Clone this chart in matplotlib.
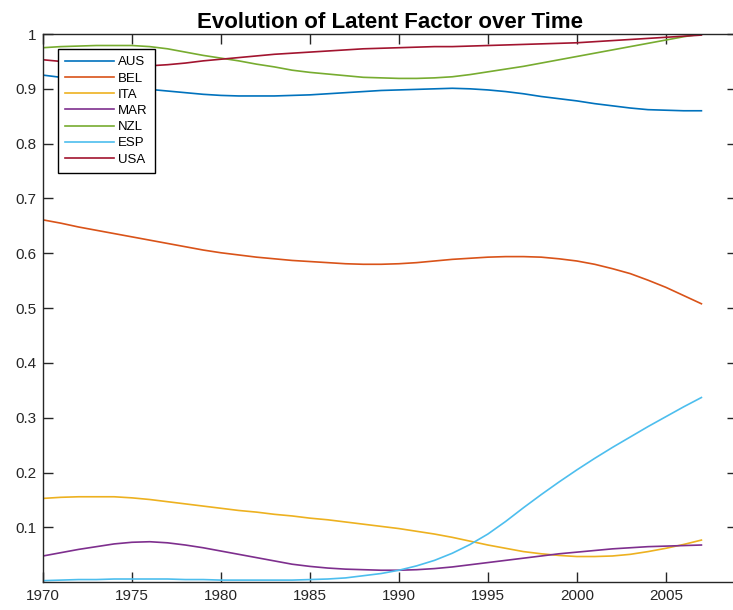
import numpy as np
import matplotlib.pyplot as plt

plt.rcParams['font.family'] = ['Liberation Sans', 'DejaVu Sans']

#### Data ####
years = np.arange(1970, 2008)

aus = [0.925, 0.921, 0.916, 0.911, 0.906, 0.902, 0.899, 0.896, 0.893, 0.890,
       0.888, 0.887, 0.887, 0.887, 0.888, 0.889, 0.891, 0.893, 0.895, 0.897,
       0.898, 0.899, 0.900, 0.901, 0.900, 0.898, 0.895, 0.891, 0.886, 0.882,
       0.878, 0.873, 0.869, 0.865, 0.862, 0.861, 0.860, 0.860]
bel = [0.661, 0.655, 0.648, 0.642, 0.636, 0.630, 0.624, 0.618, 0.612, 0.606,
       0.601, 0.597, 0.593, 0.590, 0.587, 0.585, 0.583, 0.581, 0.580, 0.580,
       0.581, 0.583, 0.586, 0.589, 0.591, 0.593, 0.594, 0.594, 0.593, 0.590,
       0.586, 0.580, 0.572, 0.563, 0.551, 0.538, 0.523, 0.508]
ita = [0.153, 0.155, 0.156, 0.156, 0.156, 0.154, 0.151, 0.147, 0.143, 0.139,
       0.135, 0.131, 0.128, 0.124, 0.121, 0.117, 0.114, 0.110, 0.106, 0.102,
       0.098, 0.093, 0.088, 0.082, 0.075, 0.068, 0.062, 0.056, 0.052, 0.049,
       0.047, 0.047, 0.048, 0.051, 0.056, 0.062, 0.069, 0.077]
mar = [0.048, 0.054, 0.060, 0.065, 0.070, 0.073, 0.074, 0.072, 0.068, 0.063,
       0.057, 0.051, 0.045, 0.039, 0.033, 0.029, 0.026, 0.024, 0.023, 0.022,
       0.022, 0.023, 0.025, 0.028, 0.032, 0.036, 0.040, 0.044, 0.048, 0.052,
       0.055, 0.058, 0.061, 0.063, 0.065, 0.066, 0.067, 0.068]
nzl = [0.975, 0.977, 0.978, 0.979, 0.979, 0.979, 0.977, 0.973, 0.967, 0.961,
       0.956, 0.951, 0.945, 0.940, 0.934, 0.930, 0.927, 0.924, 0.921, 0.920,
       0.919, 0.919, 0.920, 0.922, 0.926, 0.931, 0.936, 0.941, 0.947, 0.953,
       0.959, 0.965, 0.971, 0.977, 0.983, 0.989, 0.995, 1.000]
esp = [0.003, 0.004, 0.005, 0.005, 0.006, 0.006, 0.006, 0.006, 0.005, 0.005,
       0.004, 0.004, 0.004, 0.004, 0.004, 0.005, 0.006, 0.008, 0.012, 0.016,
       0.022, 0.030, 0.040, 0.053, 0.069, 0.088, 0.111, 0.136, 0.160, 0.183,
       0.205, 0.226, 0.246, 0.265, 0.284, 0.302, 0.320, 0.337]
usa = [0.953, 0.950, 0.947, 0.944, 0.942, 0.941, 0.942, 0.944, 0.947, 0.951,
       0.954, 0.957, 0.960, 0.963, 0.965, 0.967, 0.969, 0.971, 0.973, 0.974,
       0.975, 0.976, 0.977, 0.977, 0.978, 0.979, 0.980, 0.981, 0.982, 0.983,
       0.984, 0.986, 0.988, 0.990, 0.992, 0.994, 0.996, 0.998]

names = ['AUS', 'BEL', 'ITA', 'MAR', 'NZL', 'ESP', 'USA']
series = [aus, bel, ita, mar, nzl, esp, usa]
colors = ['#0072BD', '#D95319', '#EDB120', '#7E2F8E', '#77AC30', '#4DBEEE', '#A2142F']

xticks = [1970, 1975, 1980, 1985, 1990, 1995, 2000, 2005]
yticks = [0.1, 0.2, 0.3, 0.4, 0.5, 0.6, 0.7, 0.8, 0.9, 1]
yticklabels = ['0.1', '0.2', '0.3', '0.4', '0.5', '0.6', '0.7', '0.8', '0.9', '1']

#### Figure ####
W, H = 733, 610
fig = plt.figure(figsize=(W / 100, H / 100), dpi=100)
ax = fig.add_axes([43 / W, (H - 582.3) / H, 694 / W, 548.3 / H])

for name, vals, c in zip(names, series, colors):
    ax.plot(years, vals, color=c, lw=1.2, label=name)

ax.set_xlim(1970, 2009)
ax.set_ylim(0, 1)
ax.set_xticks(xticks)
ax.set_yticks(yticks)
ax.set_yticklabels(yticklabels)
ax.tick_params(direction='in', length=7, width=1, colors='#262626',
               labelsize=11, top=True, right=True, pad=5)
for s in ax.spines.values():
    s.set_color('#262626')
    s.set_linewidth(1)

ax.set_title('Evolution of Latent Factor over Time', fontsize=16,
             fontweight='bold', pad=4)

leg = ax.legend(loc='upper left', bbox_to_anchor=(15 / 694, 1 - 15 / 548.3),
                fontsize=9.5, frameon=True, fancybox=False, framealpha=1,
                edgecolor='black', handlelength=3.7, handletextpad=0.3,
                labelspacing=0.3, borderpad=0.55, borderaxespad=0)
leg.get_frame().set_linewidth(1)

fig.savefig('out.png', dpi=100)
